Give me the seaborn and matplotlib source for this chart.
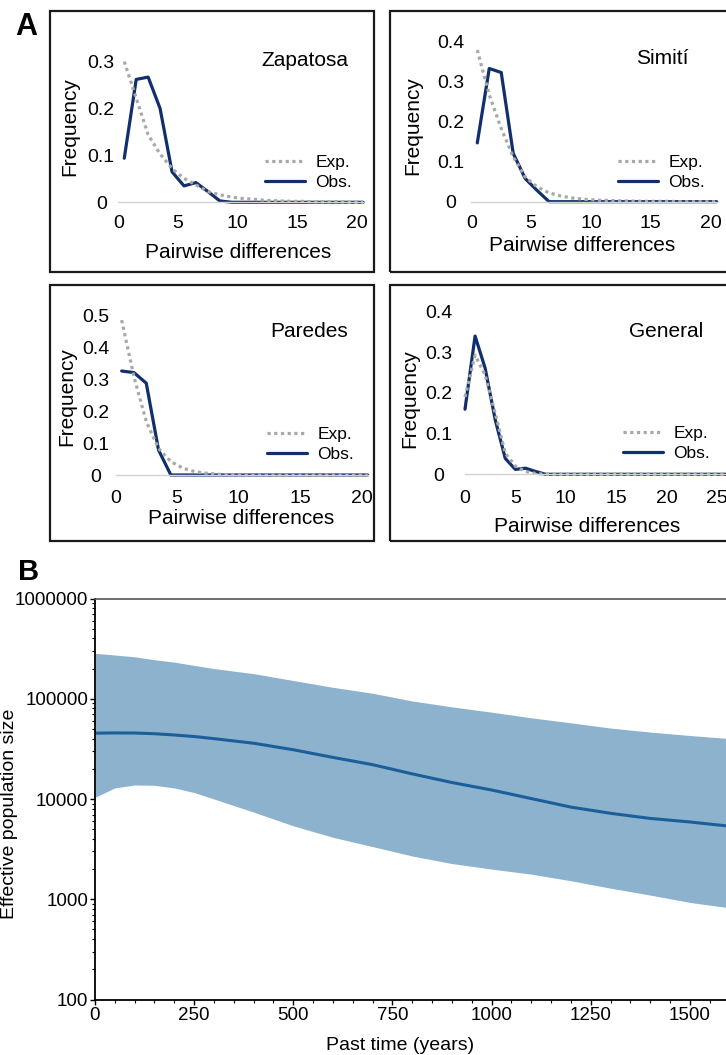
import numpy as np
import pandas as pd
import matplotlib
matplotlib.use("Agg")
import matplotlib.pyplot as plt
import seaborn as sns
from matplotlib.patches import Rectangle
from matplotlib.ticker import LogLocator, MultipleLocator, NullFormatter

# --- Data --- #
# A: mismatch distributions (frequency per number of pairwise differences)
zap_obs = [0.094, 0.262, 0.267, 0.200, 0.065, 0.035, 0.042, 0.023, 0.003, 0, 0,
           0, 0, 0, 0, 0, 0, 0, 0, 0, 0]
zap_exp = [0.300, 0.222, 0.144, 0.103, 0.072, 0.051, 0.037, 0.023, 0.016, 0.011, 0.008,
           0.006, 0.004, 0.003, 0.002, 0.002, 0.001, 0.001, 0.001, 0, 0]

sim_obs = [0.147, 0.333, 0.323, 0.121, 0.058, 0.028, 0, 0, 0, 0, 0,
           0, 0, 0, 0, 0, 0, 0, 0, 0, 0]
sim_exp = [0.379, 0.267, 0.183, 0.112, 0.062, 0.037, 0.022, 0.014, 0.009, 0.006, 0.004,
           0.003, 0.002, 0.0015, 0.001, 0.001, 0.001, 0, 0, 0, 0]

par_obs = [0.325, 0.320, 0.287, 0.078, 0, 0, 0, 0, 0, 0, 0,
           0, 0, 0, 0, 0, 0, 0, 0, 0, 0]
par_exp = [0.484, 0.307, 0.167, 0.083, 0.042, 0.021, 0.010, 0.005, 0.002, 0.001, 0,
           0, 0, 0, 0, 0, 0, 0, 0, 0, 0]

gen_obs = [0.160, 0.340, 0.261, 0.134, 0.039, 0.012, 0.015, 0.007, 0, 0, 0, 0, 0, 0,
           0, 0, 0, 0, 0, 0, 0, 0, 0, 0, 0, 0, 0]
gen_exp = [0.190, 0.293, 0.244, 0.150, 0.052, 0.020, 0.007, 0.002, 0, 0, 0, 0, 0, 0,
           0, 0, 0, 0, 0, 0, 0, 0, 0, 0, 0, 0, 0]

# category positions on the x axis
zap_x = [i + 0.5 for i in range(21)]
sim_x = [i + 0.5 for i in range(21)]
par_x = [i + 0.5 for i in range(21)]
gen_x = list(range(27))

xticks_20 = [0, 5, 10, 15, 20]
xticks_25 = [0, 5, 10, 15, 20, 25]
yticks_03 = [0, 0.1, 0.2, 0.3]
yticks_04 = [0, 0.1, 0.2, 0.3, 0.4]
yticks_05 = [0, 0.1, 0.2, 0.3, 0.4, 0.5]

# B: Bayesian skyline (effective population size through time)
years = [0, 50, 100, 150, 200, 250, 300, 400, 500, 600, 700, 800, 900,
         1000, 1100, 1200, 1300, 1400, 1500, 1591]
ne_median = [45400, 45600, 45500, 44800, 43500, 42000, 40000, 36000, 31000, 26000,
             22000, 17800, 14600, 12300, 10100, 8300, 7200, 6400, 5900, 5400]
ne_upper = [284000, 273000, 262000, 245000, 232000, 215000, 200000, 178000, 152000,
            130000, 113500, 95000, 83000, 73500, 64500, 57500, 51000, 46500, 43000, 40300]
ne_lower = [10400, 12900, 13800, 13700, 12900, 11600, 10000, 7400, 5400, 4150,
            3350, 2700, 2270, 2000, 1780, 1530, 1290, 1100, 930, 830]

NAVY = "#112f6c"
GREY = "#a8a8a8"
BAND = "#8cb2cd"
LINE = "#1b5e99"

sns.set_theme(style="ticks")
plt.rcParams["font.family"] = ["Liberation Sans", "DejaVu Sans"]
plt.rcParams["text.color"] = "black"
plt.rcParams["axes.labelcolor"] = "black"

W, H = 726, 1055
fig = plt.figure(figsize=(W / 100, H / 100), dpi=100)


def fx(px):
    return px / W


def fy(py):
    return 1 - py / H


def place(x0, xs, y0, ys, xlim, ylim):
    left = x0 + xlim[0] * xs
    right = x0 + xlim[1] * xs
    top = y0 - ylim[1] * ys
    bottom = y0 - ylim[0] * ys
    return [left / W, 1 - bottom / H, (right - left) / W, (bottom - top) / H]


# --- Panel A --- #
panels = [
    dict(name="Zapatosa", x=zap_x, obs=zap_obs, exp=zap_exp, xt=xticks_20, yt=yticks_03,
         x0=118.3, xs=11.94, y0=202.3, ys=469, xmax=21, ymax=0.33, base=20.5,
         ypad=12.3, xpad=9.5, box=(50, 11, 374, 272), title=(305, 60),
         leg=(265, 155), ylab=(70, 127), xlab=(238, 252)),
    dict(name="Simití", x=sim_x, obs=sim_obs, exp=sim_exp, xt=xticks_20, yt=yticks_04,
         x0=471.3, xs=11.97, y0=201.7, ys=400, xmax=21, ymax=0.42, base=20.5,
         ypad=15.0, xpad=9.5, box=(390, 11, 760, 272), title=(662, 59),
         leg=(618, 155), ylab=(413, 126), xlab=(582, 245)),
    dict(name="Paredes", x=par_x, obs=par_obs, exp=par_exp, xt=xticks_20, yt=yticks_05,
         x0=115.5, xs=12.3, y0=475, ys=320, xmax=21, ymax=0.52, base=20.5,
         ypad=14.0, xpad=11.0, box=(50, 285, 374, 541), title=(309, 332),
         leg=(267, 427), ylab=(67, 397), xlab=(241, 518)),
    dict(name="General", x=gen_x, obs=gen_obs, exp=gen_exp, xt=xticks_25, yt=yticks_04,
         x0=465, xs=10.07, y0=474.3, ys=406.7, xmax=27, ymax=0.42, base=27,
         ypad=18.7, xpad=11.5, box=(390, 285, 760, 541), title=(666, 332),
         leg=(623, 426), ylab=(410, 399), xlab=(587, 527)),
]

for p in panels:
    bx0, by0, bx1, by1 = p["box"]
    fig.add_artist(Rectangle((fx(bx0), fy(by1)), (bx1 - bx0) / W, (by1 - by0) / H,
                             transform=fig.transFigure, fill=False,
                             ec="#1a1a1a", lw=1.6))

    ax = fig.add_axes(place(p["x0"], p["xs"], p["y0"], p["ys"],
                            (0, p["xmax"]), (-0.015, p["ymax"])))
    ax.patch.set_alpha(0)
    df = pd.DataFrame({"diff": p["x"], "Obs.": p["obs"], "Exp.": p["exp"]})
    sns.lineplot(data=df, x="diff", y="Obs.", ax=ax, color=NAVY, lw=2.3,
                 label="Obs.", clip_on=False)
    sns.lineplot(data=df, x="diff", y="Exp.", ax=ax, color=GREY, lw=2.3,
                 linestyle=(0, (1, 1.1)), label="Exp.", clip_on=False)
    ax.set_xlim(0, p["xmax"])
    ax.set_ylim(-0.015, p["ymax"])

    for s in ["top", "right", "left"]:
        ax.spines[s].set_visible(False)
    ax.spines["bottom"].set_position(("data", 0))
    ax.spines["bottom"].set_color("#d3d3d3")
    ax.spines["bottom"].set_linewidth(1.0)
    ax.spines["bottom"].set_bounds(0, p["base"])

    ax.set_xticks(p["xt"], labels=[f"{v:g}" for v in p["xt"]])
    ax.set_yticks(p["yt"], labels=[f"{v:g}" for v in p["yt"]], ha="center")
    ax.tick_params(axis="both", length=0, labelsize=14, labelcolor="black")
    ax.tick_params(axis="x", pad=p["xpad"])
    ax.tick_params(axis="y", pad=p["ypad"])
    ax.set_xlabel("")
    ax.set_ylabel("")

    handles, labels = ax.get_legend_handles_labels()
    order = [labels.index("Exp."), labels.index("Obs.")]
    ax.legend([handles[i] for i in order], [labels[i] for i in order],
              loc="upper left", bbox_to_anchor=(fx(p["leg"][0]), fy(p["leg"][1])),
              bbox_transform=fig.transFigure, frameon=False, fontsize=12.5,
              handlelength=2.3, handletextpad=0.6, labelspacing=0.28,
              borderpad=0, borderaxespad=0)

    fig.text(fx(p["title"][0]), fy(p["title"][1]), p["name"], fontsize=15,
             ha="center", va="center")
    fig.text(fx(p["ylab"][0]), fy(p["ylab"][1]), "Frequency", fontsize=15,
             rotation=90, ha="center", va="center")
    fig.text(fx(p["xlab"][0]), fy(p["xlab"][1]), "Pairwise differences", fontsize=15,
             ha="center", va="center")

fig.text(fx(15), fy(35), "A", fontsize=22, weight="bold", va="baseline")

# --- Panel B --- #
axb = fig.add_axes([fx(95), fy(999.5), 1 - fx(95), (999.5 - 598.5) / H])
axb.fill_between(years, ne_lower, ne_upper, color=BAND, lw=0)
sns.lineplot(x=years, y=ne_median, ax=axb, color=LINE, lw=2.2)
axb.set_yscale("log")
axb.set_ylim(100, 1e6)
axb.set_xlim(0, 1591)

axb.spines["right"].set_visible(False)
axb.spines["top"].set_color("#555555")
axb.spines["top"].set_linewidth(1.2)
for s in ["left", "bottom"]:
    axb.spines[s].set_color("black")
    axb.spines[s].set_linewidth(1.3)

b_xticks = [0, 250, 500, 750, 1000, 1250, 1500]
b_yticks = [100, 1000, 10000, 100000, 1000000]
axb.set_xticks(b_xticks, labels=[str(v) for v in b_xticks])
axb.set_yticks(b_yticks, labels=[str(v) for v in b_yticks])
axb.xaxis.set_minor_locator(MultipleLocator(50))
axb.yaxis.set_minor_locator(LogLocator(base=10, subs=range(2, 10)))
axb.yaxis.set_minor_formatter(NullFormatter())
axb.tick_params(which="major", direction="out", length=3.5, width=1.0,
                labelsize=13.5, colors="black")
axb.tick_params(which="minor", direction="out", length=2.0, width=0.8, colors="black")
axb.tick_params(axis="y", which="major", pad=1.5)
axb.tick_params(axis="x", which="major", pad=1.7)
axb.set_xlabel("")
axb.set_ylabel("")

fig.text(fx(400), fy(1045), "Past time (years)", fontsize=14, ha="center", va="center")
fig.text(fx(10), fy(814), "Effective population size", fontsize=14, rotation=90,
         ha="center", va="center")
fig.text(fx(18), fy(580), "B", fontsize=21, weight="bold", va="baseline")

fig.savefig("out.png", dpi=100)
